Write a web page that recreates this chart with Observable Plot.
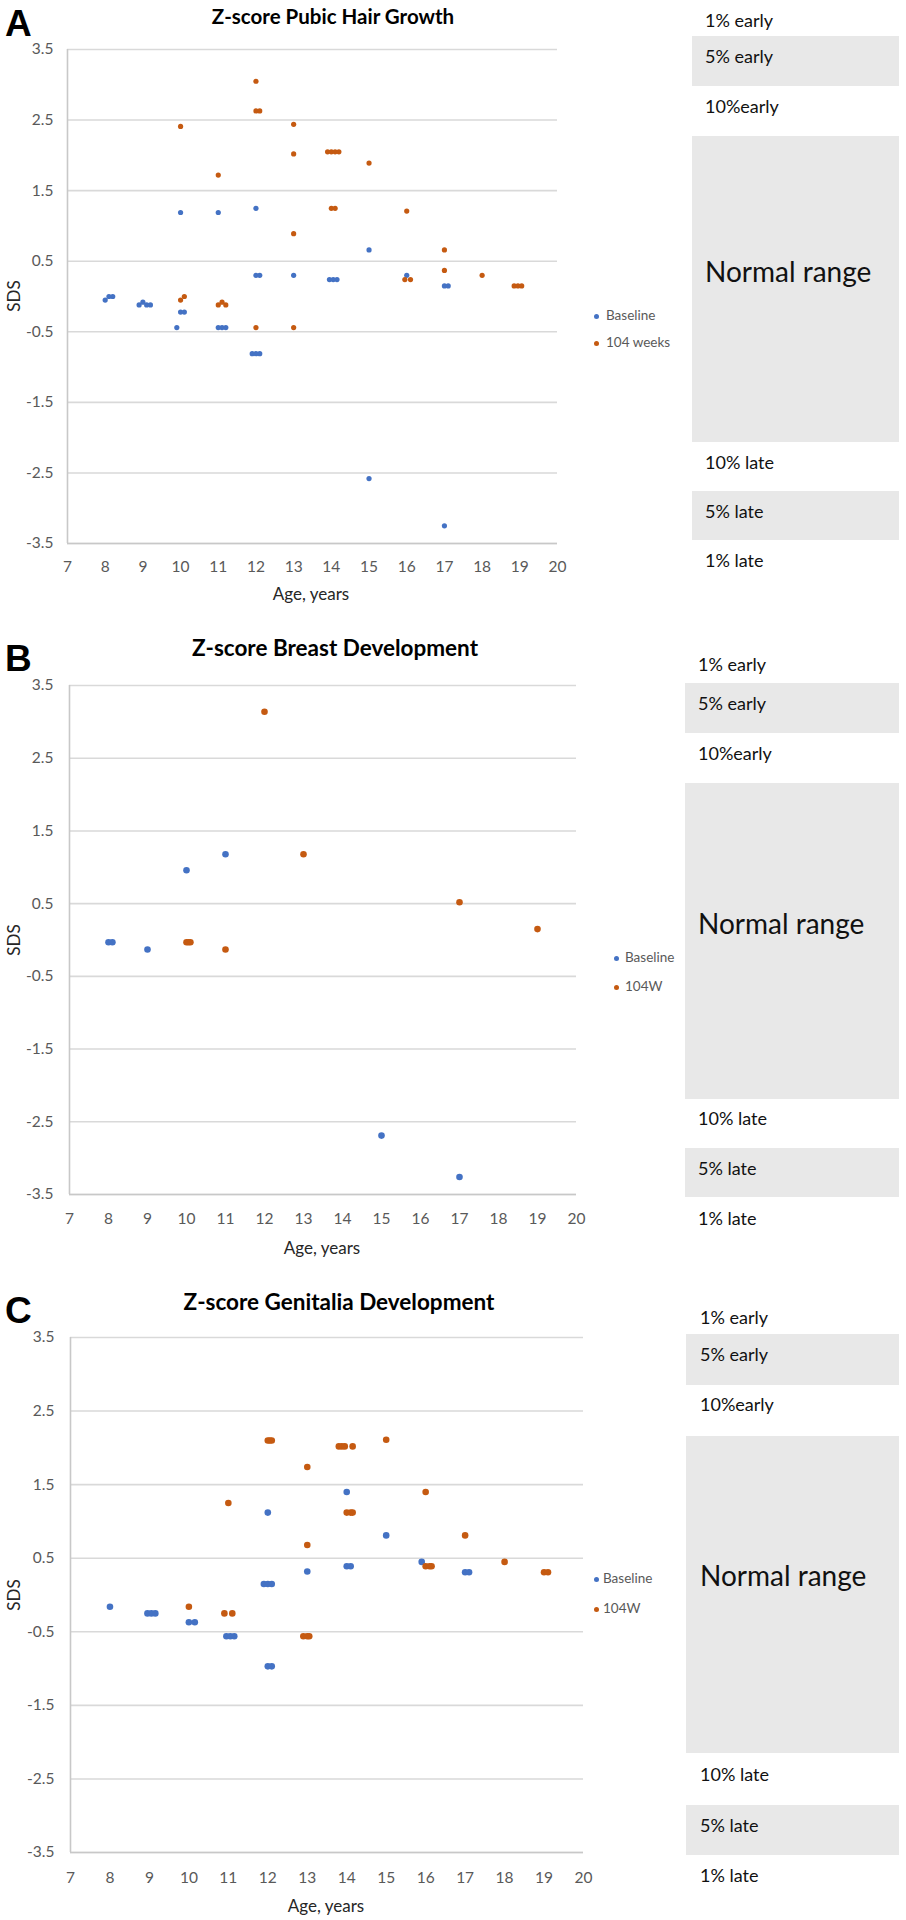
<!DOCTYPE html>
<html>
<head>
<meta charset="utf-8">
<script src="https://cdn.jsdelivr.net/npm/d3@7"></script>
<script src="https://cdn.jsdelivr.net/npm/@observablehq/plot@0.6"></script>
<style>
  html, body { margin: 0; padding: 0; background: #fff; }
  #page { position: relative; width: 906px; height: 1920px; overflow: hidden; background: #fff; font-family: Lato, "Open Sans", sans-serif; }
  .abs { position: absolute; white-space: nowrap; line-height: 1; }
  .svgwrap { position: absolute; left: 0; }
  .box { position: absolute; background: #e8e8e8; }
</style>
</head>
<body>
<div id="page"></div>
<script>
// ---------- data ----------
const AGE_TICKS = [7, 8, 9, 10, 11, 12, 13, 14, 15, 16, 17, 18, 19, 20];
const SDS_TICKS = [3.5, 2.5, 1.5, 0.5, -0.5, -1.5, -2.5, -3.5];
const SERIES_A = ["Baseline", "104 weeks"];
const SERIES_BC = ["Baseline", "104W"];
const BAND_LABELS = ["1% early", "5% early", "10%early", "Normal range", "10% late", "5% late", "1% late"];
const TITLES = ["Z-score Pubic Hair Growth", "Z-score Breast Development", "Z-score Genitalia Development"];
const PANEL_LETTERS = ["A", "B", "C"];

// [age, SDS]
const pubicBaseline = [
  [8.0, -0.05], [8.1, 0.0], [8.2, 0.0],
  [8.9, -0.12], [9.0, -0.08], [9.1, -0.12], [9.2, -0.12],
  [9.9, -0.44], [10.0, -0.22], [10.1, -0.22], [10.0, 1.19],
  [11.0, 1.19], [11.0, -0.44], [11.1, -0.44], [11.2, -0.44],
  [12.0, 1.25], [12.0, 0.30], [12.1, 0.30], [11.9, -0.81], [12.0, -0.81], [12.1, -0.81],
  [13.0, 0.30],
  [13.95, 0.24], [14.05, 0.24], [14.15, 0.24],
  [15.0, 0.66], [15.0, -2.58],
  [16.0, 0.30],
  [17.0, 0.15], [17.1, 0.15], [17.0, -3.25]
];
const pubic104 = [
  [10.0, 2.41], [10.0, -0.05], [10.1, 0.0],
  [11.0, 1.72], [11.0, -0.12], [11.1, -0.08], [11.2, -0.12],
  [12.0, 3.05], [12.0, 2.63], [12.1, 2.63], [12.0, -0.44],
  [13.0, 2.44], [13.0, 2.02], [13.0, 0.89], [13.0, -0.44],
  [13.9, 2.05], [14.0, 2.05], [14.1, 2.05], [14.2, 2.05], [14.0, 1.25], [14.1, 1.25],
  [15.0, 1.89],
  [16.0, 1.21], [15.95, 0.24], [16.1, 0.24],
  [17.0, 0.66], [17.0, 0.37],
  [18.0, 0.30],
  [18.85, 0.15], [18.95, 0.15], [19.05, 0.15]
];
const breastBaseline = [
  [8.0, -0.03], [8.1, -0.03], [9.0, -0.13], [10.0, 0.96], [11.0, 1.18],
  [15.0, -2.69], [17.0, -3.26]
];
const breast104 = [
  [10.0, -0.03], [10.05, -0.03], [10.1, -0.03], [11.0, -0.13], [12.0, 3.14],
  [13.0, 1.18], [17.0, 0.52], [19.0, 0.15]
];
const genitBaseline = [
  [8.0, -0.16],
  [8.95, -0.25], [9.05, -0.25], [9.15, -0.25],
  [10.0, -0.37], [10.15, -0.37],
  [10.95, -0.56], [11.05, -0.56], [11.15, -0.56],
  [12.0, 1.12], [11.9, 0.15], [12.0, 0.15], [12.1, 0.15], [12.0, -0.97], [12.1, -0.97],
  [13.0, 0.32],
  [14.0, 1.40], [14.0, 0.39], [14.1, 0.39],
  [15.0, 0.81],
  [15.9, 0.45],
  [17.0, 0.31], [17.1, 0.31]
];
const genit104 = [
  [10.0, -0.16],
  [10.9, -0.25], [11.1, -0.25], [11.0, 1.25],
  [12.0, 2.10], [12.05, 2.10], [12.1, 2.10],
  [12.9, -0.56], [13.0, -0.56], [13.05, -0.56], [13.0, 1.74], [13.0, 0.68],
  [13.8, 2.02], [13.875, 2.02], [13.95, 2.02], [14.15, 2.02],
  [14.0, 1.12], [14.1, 1.12], [14.15, 1.12],
  [15.0, 2.11],
  [16.0, 1.40], [16.0, 0.39], [16.1, 0.39], [16.15, 0.39],
  [17.0, 0.81],
  [18.0, 0.45],
  [19.0, 0.31], [19.1, 0.31]
];

// ---------- style / layout ----------
const BLUE = "#4472C4";
const ORANGE = "#C55A11";
const GRID = "#d9d9d9";
const AXISLINE = "#c8c8c8";
const TICKTEXT = "#595959";

const panels = [
  {
    svgTop: 0, svgH: 600, frame: {l: 67, r: 557, t: 49, b: 543}, r: 2.6, xPad: 17, yPad: 14,
    base: pubicBaseline, w104: pubic104, series: SERIES_A, titleSize: "20.5px",
    letterTop: 5, title: {x: 333, y: 16}, xlab: {x: 311, y: 593}, ylab: {x: 13, y: 296},
    legend: {dot: 596, text: 606, y1: 316, y2: 343},
    bands: {x: 692, tx: 705, early1: 20, box5: [36, 86], early10: 106, normal: [136, 442], normalText: 271,
            late10: 462, boxL5: [491, 540], late1: 560}
  },
  {
    svgTop: 640, svgH: 590, frame: {l: 69, r: 576, t: 685, b: 1194}, r: 3.3, xPad: 18, yPad: 16,
    base: breastBaseline, w104: breast104, series: SERIES_BC, titleSize: "22.5px",
    letterTop: 640, title: {x: 335, y: 648}, xlab: {x: 322, y: 1247}, ylab: {x: 13, y: 940},
    legend: {dot: 616, text: 625, y1: 958, y2: 987},
    bands: {x: 685, tx: 698, early1: 664, box5: [683, 733], early10: 753, normal: [783, 1099], normalText: 923,
            late10: 1118, boxL5: [1148, 1197], late1: 1218}
  },
  {
    svgTop: 1290, svgH: 610, frame: {l: 70, r: 583, t: 1337, b: 1852}, r: 3.3, xPad: 19, yPad: 16,
    base: genitBaseline, w104: genit104, series: SERIES_BC, titleSize: "22.5px",
    letterTop: 1292, title: {x: 339, y: 1302}, xlab: {x: 326, y: 1905}, ylab: {x: 13, y: 1595},
    legend: {dot: 596, text: 603, y1: 1579, y2: 1609},
    bands: {x: 686, tx: 700, early1: 1317, box5: [1334, 1385], early10: 1404, normal: [1436, 1753], normalText: 1575,
            late10: 1774, boxL5: [1805, 1855], late1: 1875}
  }
];

const page = document.getElementById("page");
const SVG_W = 600;

function addText(txt, x, y, css, anchor) {
  const d = document.createElement("div");
  d.className = "abs";
  d.textContent = txt;
  d.style.left = x + "px";
  d.style.top = y + "px";
  const tx = anchor === "middle" ? "-50%" : "0";
  d.style.transform = `translate(${tx}, -50%)` + (css.rotate ? " rotate(-90deg)" : "");
  for (const k in css) if (k !== "rotate") d.style[k] = css[k];
  page.appendChild(d);
  return d;
}
function addBox(x, y1, y2) {
  const d = document.createElement("div");
  d.className = "box";
  d.style.left = x + "px";
  d.style.top = y1 + "px";
  d.style.width = (899 - x) + "px";
  d.style.height = (y2 - y1) + "px";
  page.appendChild(d);
}
function addDot(x, y, color) {
  const d = document.createElement("div");
  d.style.position = "absolute";
  d.style.left = (x - 2.5) + "px";
  d.style.top = (y - 2.5) + "px";
  d.style.width = "5px";
  d.style.height = "5px";
  d.style.borderRadius = "50%";
  d.style.background = color;
  page.appendChild(d);
}

panels.forEach((p, i) => {
  const f = p.frame;
  const chart = Plot.plot({
    width: SVG_W,
    height: p.svgH,
    marginLeft: f.l,
    marginRight: SVG_W - f.r,
    marginTop: f.t - p.svgTop,
    marginBottom: p.svgTop + p.svgH - f.b,
    style: {fontFamily: "Lato, 'Open Sans', sans-serif", fontSize: "15.5px", color: TICKTEXT, background: "transparent", overflow: "visible"},
    x: {domain: [7, 20], ticks: AGE_TICKS, tickSize: 0, tickPadding: p.xPad, tickFormat: d => String(d), label: null},
    y: {domain: [-3.5, 3.5], ticks: SDS_TICKS, tickSize: 0, tickPadding: p.yPad, tickFormat: d => String(d), label: null},
    marks: [
      Plot.ruleY(SDS_TICKS, {stroke: GRID, strokeWidth: 1.6}),
      Plot.ruleX([7], {stroke: AXISLINE, strokeWidth: 1.6}),
      Plot.ruleY([-3.5], {stroke: AXISLINE, strokeWidth: 1.6}),
      Plot.dot(p.base, {x: d => d[0], y: d => d[1], r: p.r, fill: BLUE}),
      Plot.dot(p.w104, {x: d => d[0], y: d => d[1], r: p.r, fill: ORANGE})
    ]
  });
  const wrap = document.createElement("div");
  wrap.className = "svgwrap";
  wrap.style.top = p.svgTop + "px";
  wrap.appendChild(chart);
  page.appendChild(wrap);

  // panel letter
  const L = document.createElement("div");
  L.className = "abs";
  L.textContent = PANEL_LETTERS[i];
  L.style.left = "5px";
  L.style.top = p.letterTop + "px";
  L.style.fontFamily = "'Liberation Sans', Arial, sans-serif";
  L.style.fontWeight = "bold";
  L.style.fontSize = "37px";
  L.style.color = "#000";
  page.appendChild(L);

  // title
  addText(TITLES[i], p.title.x, p.title.y, {fontWeight: "bold", fontSize: p.titleSize, color: "#000"}, "middle");
  // axis titles
  addText("Age, years", p.xlab.x, p.xlab.y, {fontSize: "17px", color: "#262626"}, "middle");
  addText("SDS", p.ylab.x, p.ylab.y, {fontSize: "17px", color: "#262626", rotate: true}, "middle");

  // legend
  addDot(p.legend.dot, p.legend.y1, BLUE);
  addDot(p.legend.dot, p.legend.y2, ORANGE);
  addText(p.series[0], p.legend.text, p.legend.y1, {fontSize: "13.5px", color: TICKTEXT});
  addText(p.series[1], p.legend.text, p.legend.y2, {fontSize: "13.5px", color: TICKTEXT});

  // reference bands
  const b = p.bands;
  addBox(b.x, b.box5[0], b.box5[1]);
  addBox(b.x, b.normal[0], b.normal[1]);
  addBox(b.x, b.boxL5[0], b.boxL5[1]);
  const small = {fontSize: "18px", color: "#111"};
  addText(BAND_LABELS[0], b.tx, b.early1, small);
  addText(BAND_LABELS[1], b.tx, b.box5[0] + 20, small);
  addText(BAND_LABELS[2], b.tx, b.early10, small);
  addText(BAND_LABELS[3], b.tx, b.normalText, {fontSize: "28px", color: "#111"});
  addText(BAND_LABELS[4], b.tx, b.late10, small);
  addText(BAND_LABELS[5], b.tx, b.boxL5[0] + 20, small);
  addText(BAND_LABELS[6], b.tx, b.late1, small);
});
</script>
</body>
</html>
